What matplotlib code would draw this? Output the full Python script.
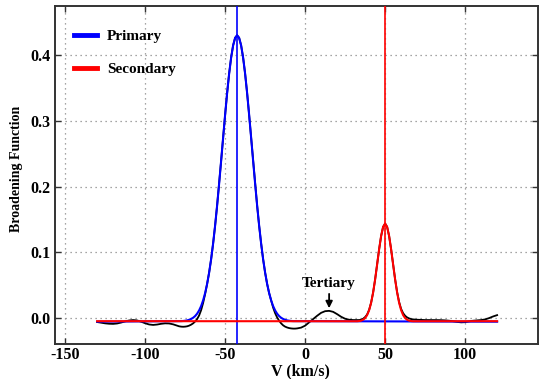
import numpy as np
import matplotlib
matplotlib.use("Agg")
import matplotlib.pyplot as plt

plt.rcParams['font.family'] = 'serif'
plt.rcParams['font.serif'] = ['Liberation Serif', 'DejaVu Serif']
plt.rcParams['font.weight'] = 'bold'
plt.rcParams['axes.labelweight'] = 'bold'
plt.rcParams['axes.unicode_minus'] = False

# observed broadening function, sampled along velocity (km/s)
bf_v = np.concatenate([np.arange(-130, -80, 2.5), np.arange(-80, -5, 1.25),
                       np.arange(-5, 32.5, 2.5), np.arange(32.5, 67.5, 1.25),
                       np.arange(67.5, 122.5, 2.5)])
bf = [
    -0.0060, -0.0070, -0.0080, -0.0086, -0.0088, -0.0082, -0.0068, -0.0050, -0.0036, -0.0030,
    -0.0036, -0.0055, -0.0078, -0.0097, -0.0104, -0.0098, -0.0087, -0.0080, -0.0082, -0.0095,
    # -80 .. -6.25
    -0.0115, -0.0125, -0.0130, -0.0132, -0.0130, -0.0125, -0.0115, -0.0100, -0.0080, -0.0052,
    -0.0015, 0.0040, 0.0120, 0.0230, 0.0365, 0.0520, 0.0691, 0.0895, 0.1135, 0.1408,
    0.1713, 0.2043, 0.2390, 0.2744, 0.3092, 0.3421, 0.3715, 0.3960, 0.4146, 0.4261,
    0.4300, 0.4261, 0.4146, 0.3960, 0.3715, 0.3421, 0.3092, 0.2744, 0.2390, 0.2043,
    0.1713, 0.1408, 0.1135, 0.0895, 0.0691, 0.0520, 0.0381, 0.0270, 0.0160, 0.0075,
    0.0010, -0.0040, -0.0080, -0.0110, -0.0130, -0.0143, -0.0152, -0.0157, -0.0160, -0.0160,
    # -5 .. 30
    -0.0157, -0.0145, -0.0115, -0.0065, -0.0015, 0.0035, 0.0080, 0.0105, 0.0110, 0.0095,
    0.0060, 0.0020, -0.0010, -0.0025, -0.0030,
    # 32.5 .. 66.25
    -0.0030, -0.0030, -0.0025, -0.0010, 0.0015, 0.0055, 0.0125, 0.0235, 0.0389, 0.0587,
    0.0814, 0.1046, 0.1248, 0.1387, 0.1437, 0.1387, 0.1248, 0.1046, 0.0814, 0.0590,
    0.0395, 0.0245, 0.0140, 0.0075, 0.0035, 0.0010, -0.0005, -0.0015,
    # 67.5 .. 120
    -0.0020, -0.0025, -0.0028, -0.0030, -0.0030, -0.0030, -0.0031, -0.0032, -0.0035, -0.0040,
    -0.0048, -0.0058, -0.0065, -0.0062, -0.0050, -0.0040, -0.0035, -0.0030, -0.0020, 0.0000,
    0.0025, 0.0045,
]

# gaussian fit of the primary
prim_v = np.concatenate([[-130], np.arange(-77.5, -6.25, 1.25), [120]])
prim_fit = [
    -0.0055,
    -0.0046, -0.0044, -0.0040, -0.0035, -0.0026, -0.0013, 0.0005, 0.0031, 0.0067, 0.0117,
    0.0183, 0.0270, 0.0381, 0.0520, 0.0691, 0.0895, 0.1135, 0.1408, 0.1713, 0.2043,
    0.2390, 0.2744, 0.3092, 0.3421, 0.3715, 0.3960, 0.4146, 0.4261, 0.4300,
    0.4261, 0.4146, 0.3960, 0.3715, 0.3421, 0.3092, 0.2744, 0.2390, 0.2043, 0.1713,
    0.1408, 0.1135, 0.0895, 0.0691, 0.0520, 0.0381, 0.0270, 0.0183, 0.0117, 0.0067,
    0.0031, 0.0005, -0.0013, -0.0026, -0.0035, -0.0040, -0.0044, -0.0046,
    -0.0055,
]
prim_center = -42.5

# gaussian fit of the secondary
sec_v = np.concatenate([[-130], np.arange(32.5, 68.75, 1.25), [120]])
sec_fit = [
    -0.0047,
    -0.0048, -0.0045, -0.0039, -0.0025, 0.0000, 0.0045, 0.0120, 0.0232, 0.0389, 0.0587,
    0.0814, 0.1046, 0.1248, 0.1387, 0.1437, 0.1387, 0.1248, 0.1046, 0.0814, 0.0587,
    0.0389, 0.0232, 0.0120, 0.0045, 0.0000, -0.0025, -0.0039, -0.0045, -0.0048,
    -0.0047,
]
sec_center = 50

tert_v, tert_bf = 15, 0.011

fig = plt.figure(figsize=(5.45, 3.79), dpi=100)
ax = fig.add_axes([0.101, 0.092, 0.886, 0.893])

ax.plot(bf_v, bf, color='black', lw=1.3, zorder=2)
ax.plot(prim_v, prim_fit, color='blue', lw=1.5, label='Primary', zorder=3)
ax.plot(sec_v, sec_fit, color='red', lw=1.5, label='Secondary', zorder=4)
ax.axvline(prim_center, color='blue', lw=1.2, zorder=3)
ax.axvline(sec_center, color='red', lw=1.2, zorder=4)

ax.annotate('Tertiary', xy=(tert_v, tert_bf + 0.004), xytext=(tert_v, 0.053),
            ha='center', va='center', fontsize=11, fontweight='bold',
            arrowprops=dict(arrowstyle='-|>', color='black', lw=1.3,
                            mutation_scale=10, shrinkA=1, shrinkB=0))

ax.set_xlim(-156.3, 145.5)
ax.set_ylim(-0.0396, 0.475)
ax.set_xticks([-150, -100, -50, 0, 50, 100])
ax.set_yticks([0.0, 0.1, 0.2, 0.3, 0.4])
ax.yaxis.set_major_formatter(matplotlib.ticker.FormatStrFormatter('%.1f'))
ax.grid(True, color='#888888', linestyle=(0, (1, 3)), lw=0.9)
ax.tick_params(direction='in', top=True, right=True, length=4, width=1,
               labelsize=11.5, color='#333333')
ax.tick_params(axis='x', pad=2)
for s in ax.spines.values():
    s.set_color('#333333')
    s.set_linewidth(1.4)

ax.set_xlabel('V (km/s)', fontsize=11.5)
ax.xaxis.set_label_coords(0.509, -0.058)
ax.set_ylabel('Broadening Function', fontsize=10)
ax.yaxis.set_label_coords(-0.066, 0.517)

leg = ax.legend(loc='upper left', frameon=False, fontsize=11, handlelength=1.5,
                handletextpad=0.7, labelspacing=1.27, bbox_to_anchor=(0.01, 0.97))
for h in leg.get_lines():
    h.set_linewidth(3.5)

plt.savefig('out.png', dpi=100)
